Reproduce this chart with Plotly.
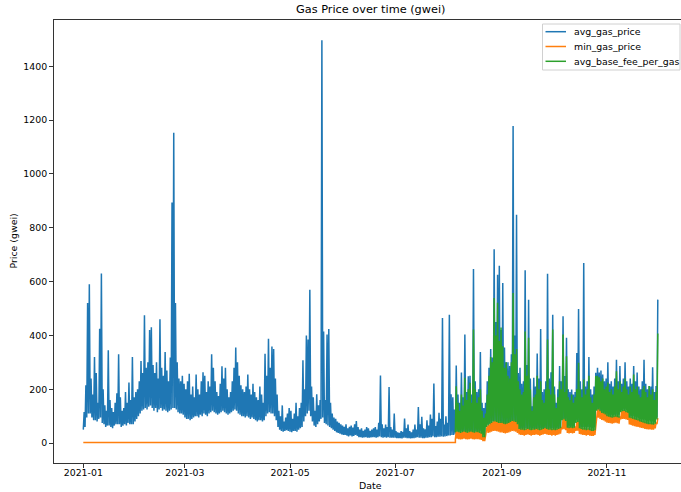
import pandas as pd
import plotly.graph_objects as go

# Hourly gas prices condensed to one trough and one peak per day (gwei).
# avg_gas_price, 2021-01-01 .. 2021-11-30
avg_gas_lo = [
    # Jan
    50, 60, 95, 110, 110, 95, 85, 85, 80, 90, 95, 75, 70, 60, 65, 65, 60, 55, 65, 70,
    70, 70, 60, 65, 70, 65, 75, 70, 70, 70, 80,
    # Feb
    90, 100, 110, 120, 125, 130, 125, 135, 140, 130, 120, 130, 115, 125, 130, 120, 125, 120,
    115, 120, 125, 130, 130, 125, 115, 110, 110, 105,
    # Mar
    95, 90, 90, 85, 90, 95, 100, 100, 95, 105, 100, 110, 105, 100, 110, 115, 120, 115, 110,
    105, 110, 115, 120, 115, 110, 105, 110, 115, 120, 125, 120,
    # Apr
    110, 105, 100, 100, 95, 100, 95, 90, 95, 90, 85, 80, 85, 85, 80, 85, 100, 110, 115, 110,
    110, 100, 85, 60, 50, 45, 42, 45, 48, 45,
    # May
    42, 40, 45, 45, 42, 50, 55, 60, 80, 100, 110, 120, 100, 80, 65, 60, 70, 80, 90, 95,
    75, 70, 65, 60, 55, 50, 45, 40, 38, 35, 32,
    # Jun
    30, 30, 28, 25, 28, 25, 27, 30, 27, 22, 22, 20, 21, 22, 20, 20, 21, 22, 22, 20,
    22, 25, 22, 20, 22, 20, 22, 20, 20, 20,
    # Jul
    20, 18, 18, 18, 17, 20, 20, 18, 18, 17, 18, 18, 20, 22, 20, 20, 18, 18, 20, 20,
    22, 22, 25, 22, 22, 24, 24, 25, 24, 25, 26,
    # Aug
    28, 28, 30, 30, 35, 45, 45, 45, 45, 45, 45, 45, 45, 45, 45, 45, 45, 45, 45, 45,
    30, 30, 60, 70, 75, 80, 80, 80, 80, 80, 80,
    # Sep
    75, 75, 75, 75, 75, 75, 80, 80, 80, 75, 55, 55, 55, 55, 55, 55, 55, 55, 55, 55,
    55, 55, 55, 55, 55, 55, 55, 55, 55, 55,
    # Oct
    55, 55, 55, 55, 55, 90, 90, 90, 62, 62, 62, 62, 62, 85, 85, 60, 60, 60, 60, 60,
    60, 60, 60, 60, 60, 125, 120, 120, 115, 115, 110,
    # Nov
    105, 105, 105, 105, 105, 105, 105, 105, 125, 125, 125, 125, 125, 100, 100, 100, 100,
    95, 95, 95, 95, 90, 90, 90, 85, 85, 85, 80, 80, 95,
]
avg_gas_hi = [
    # Jan
    115, 215, 520, 590, 240, 180, 320, 260, 150, 425, 630, 200, 140, 120, 345, 160, 130,
    115, 150, 185, 330, 170, 120, 130, 190, 150, 225, 160, 320, 170, 190,
    # Feb
    200, 230, 305, 260, 475, 280, 300, 420, 430, 290, 260, 300, 240, 460, 280, 250, 338,
    270, 230, 318, 894, 1153, 520, 300, 240, 230, 250, 220,
    # Mar
    200, 230, 258, 180, 210, 170, 255, 200, 180, 230, 263, 250, 190, 230, 210, 330, 280,
    230, 190, 175, 220, 285, 240, 280, 200, 170, 190, 230, 280, 355, 300,
    # Apr
    250, 215, 200, 190, 210, 255, 200, 180, 220, 190, 170, 160, 210, 180, 150, 332, 250,
    388, 280, 359, 350, 240, 180, 120, 100, 140, 80, 95, 110, 130,
    # May
    120, 90, 110, 150, 100, 130, 150, 308, 200, 400, 385, 570, 210, 170, 120, 181, 140,
    160, 1497, 415, 160, 403, 424, 150, 110, 95, 90, 80, 75, 70, 65,
    # Jun
    60, 70, 55, 60, 65, 58, 70, 82, 60, 50, 55, 45, 50, 60, 55, 45, 50, 55, 60, 50,
    75, 251, 70, 55, 69, 60, 208, 60, 50, 110,
    # Jul
    45, 40, 38, 45, 42, 91, 55, 69, 45, 40, 50, 69, 50, 134, 70, 98, 55, 51, 85, 65,
    106, 90, 221, 63, 80, 113, 90, 465, 69, 100, 75,
    # Aug
    477, 181, 170, 125, 288, 180, 150, 262, 170, 403, 190, 248, 250, 180, 647, 230, 190,
    200, 338, 150, 130, 150, 230, 280, 350, 318, 720, 450, 625, 659, 420,
    # Sep
    595, 355, 300, 300, 286, 330, 1178, 400, 848, 260, 280, 220, 230, 642, 290, 533, 240,
    137, 243, 210, 333, 240, 424, 190, 200, 230, 629, 240, 263, 477,
    # Oct
    210, 150, 200, 286, 230, 471, 249, 391, 200, 190, 199, 180, 190, 335, 498, 230, 200,
    669, 210, 230, 320, 200, 180, 210, 261, 280, 262, 270, 255, 230, 240,
    # Nov
    300, 220, 230, 210, 240, 310, 230, 286, 220, 240, 300, 230, 210, 240, 220, 286, 230,
    262, 210, 200, 230, 310, 220, 200, 212, 210, 282, 190, 212, 533,
]

# min_gas_price: flat before the London upgrade, daily trough/peak after it
min_gas_prefork_dates = ["2021-01-01", "2021-08-05"]
min_gas_prefork = [2, 2]
min_gas_lo = [
    # Aug 5 ..
    15, 16, 15, 14, 15, 16, 15, 14, 15, 16, 15, 14, 15, 15, 14, 12, 7, 7, 35, 38, 40, 42,
    45, 45, 44, 42, 40,
    # Sep
    40, 38, 36, 38, 40, 42, 45, 44, 42, 38, 32, 30, 30, 28, 30, 32, 30, 28, 30, 30, 32, 30,
    28, 30, 32, 34, 32, 30, 30, 28,
    # Oct
    30, 28, 30, 32, 35, 51, 52, 48, 38, 36, 38, 36, 38, 45, 46, 34, 32, 30, 30, 28, 30, 28,
    27, 27, 30, 92, 94, 90, 86, 84, 80,
    # Nov
    76, 75, 74, 72, 74, 76, 74, 72, 88, 90, 90, 88, 86, 69, 67, 65, 63, 61, 60, 58, 56, 55,
    53, 52, 51, 51, 50, 50, 55, 70,
]
min_gas_hi = [
    45, 46, 45, 43, 45, 47, 45, 43, 45, 47, 45, 43, 45, 45, 43, 40, 26, 26, 65, 70, 75, 80,
    85, 85, 83, 80, 80,
    80, 77, 75, 77, 80, 83, 87, 85, 83, 75, 57, 55, 55, 53, 55, 57, 55, 53, 55, 55, 57, 55,
    53, 55, 57, 60, 57, 55, 55, 53,
    55, 53, 55, 57, 60, 90, 93, 87, 62, 60, 62, 60, 62, 80, 83, 60, 57, 55, 55, 53, 55, 53,
    50, 50, 53, 125, 130, 123, 117, 115, 111,
    105, 103, 101, 99, 101, 103, 101, 99, 120, 123, 124, 120, 118, 99, 97, 95, 93, 91, 89,
    85, 83, 81, 79, 77, 75, 75, 74, 73, 77, 93,
]

# avg_base_fee_per_gas, from 2021-08-05
base_fee_lo = [
    40, 42, 40, 38, 40, 42, 40, 38, 40, 42, 40, 38, 40, 40, 38, 35, 22, 22, 60, 65, 70, 75,
    80, 80, 78, 75, 75,
    75, 72, 70, 72, 75, 78, 82, 80, 78, 70, 52, 50, 50, 48, 50, 52, 50, 48, 50, 50, 52, 50,
    48, 50, 52, 55, 52, 50, 50, 48,
    50, 48, 50, 52, 55, 85, 88, 82, 57, 55, 57, 55, 57, 75, 78, 55, 52, 50, 50, 48, 50, 48,
    45, 45, 48, 120, 125, 118, 112, 110, 106,
    100, 98, 96, 94, 96, 98, 96, 94, 115, 118, 119, 115, 113, 94, 92, 90, 88, 86, 84, 80,
    78, 76, 74, 72, 70, 70, 69, 68, 72, 88,
]
base_fee_hi = [
    211, 150, 120, 180, 140, 243, 160, 200, 224, 150, 422, 200, 150, 170, 200, 120, 94, 110,
    180, 250, 320, 300, 539, 400, 521, 380, 429,
    360, 280, 300, 250, 240, 300, 558, 330, 350, 230, 200, 180, 190, 415, 250, 391, 200, 120,
    170, 180, 250, 200, 230, 160, 150, 200, 385, 200, 180, 422,
    180, 130, 170, 230, 200, 403, 190, 323, 170, 160, 180, 150, 170, 200, 298, 200, 170, 236,
    180, 200, 250, 170, 150, 180, 249, 250, 245, 230, 240, 200, 210,
    225, 190, 200, 180, 210, 267, 200, 230, 190, 210, 240, 200, 180, 210, 190, 255, 200, 210,
    180, 170, 200, 212, 190, 170, 212, 180, 200, 160, 190, 407,
]

y_ticks = [0, 200, 400, 600, 800, 1000, 1200, 1400]
x_ticks = ["2021-01-01", "2021-03-01", "2021-05-01", "2021-07-01", "2021-09-01", "2021-11-01"]

series_names = ["avg_gas_price", "min_gas_price", "avg_base_fee_per_gas"]
series_colors = ["#1f77b4", "#ff7f0e", "#2ca02c"]

FONT = "DejaVu Sans"
TEXT_SIZE = 9.4
TITLE_SIZE = 11.3


def daily_series(start, lo, hi):
    """Trough at midnight, peak at noon for each day."""
    ys = []
    for a, b in zip(lo, hi):
        ys += [a, b]
    xs = pd.date_range(start, periods=len(ys), freq="12h")
    return xs, ys


blue_x, blue_y = daily_series("2021-01-01", avg_gas_lo, avg_gas_hi)
post_x, orange_post = daily_series("2021-08-05", min_gas_lo, min_gas_hi)
orange_x = list(pd.to_datetime(min_gas_prefork_dates)) + list(post_x)
orange_y = min_gas_prefork + orange_post
green_x, green_y = daily_series("2021-08-05", base_fee_lo, base_fee_hi)

fig = go.Figure()
for (xs, ys), name, color in zip(
        [(blue_x, blue_y), (orange_x, orange_y), (green_x, green_y)],
        series_names, series_colors):
    fig.add_trace(go.Scatter(x=xs, y=ys, mode="lines", name=name,
                             line=dict(color=color, width=1.5), showlegend=False))

# Compact legend box in the upper-right corner of the axes
px_x = lambda p: (p - 54) / 627
px_y = lambda p: (463 - p) / 443
shapes = [dict(type="rect", xref="paper", yref="paper",
               x0=px_x(542.5), x1=px_x(680), y0=px_y(70), y1=px_y(24),
               fillcolor="rgba(255,255,255,0.8)", line=dict(color="#d0d0d0", width=1),
               layer="above")]
annotations = []
for i, (name, color) in enumerate(zip(series_names, series_colors)):
    yy = px_y(31.7 + 14.8 * i)
    shapes.append(dict(type="line", xref="paper", yref="paper",
                       x0=px_x(545.5), x1=px_x(566), y0=yy, y1=yy,
                       line=dict(color=color, width=1.5), layer="above"))
    annotations.append(dict(text=name, xref="paper", yref="paper", x=px_x(572), y=yy,
                            xanchor="left", yanchor="middle", showarrow=False,
                            font=dict(size=TEXT_SIZE, color="black")))

annotations += [
    dict(text="Gas Price over time (gwei)", xref="paper", yref="paper",
         x=0.505, y=px_y(10), xanchor="center", yanchor="middle", showarrow=False,
         font=dict(size=TITLE_SIZE, color="black")),
    dict(text="Date", xref="paper", yref="paper", x=0.505, y=px_y(485.5),
         xanchor="center", yanchor="middle", showarrow=False,
         font=dict(size=TEXT_SIZE, color="black")),
    dict(text="Price (gwei)", xref="paper", yref="paper", x=px_x(13), y=0.5,
         xanchor="center", yanchor="middle", textangle=-90, showarrow=False,
         font=dict(size=TEXT_SIZE, color="black")),
]

fig.update_layout(
    width=681, height=492,
    margin=dict(l=54, r=0, t=20, b=29),
    paper_bgcolor="white", plot_bgcolor="white",
    font=dict(family=FONT, size=TEXT_SIZE, color="black"),
    showlegend=False,
    xaxis=dict(
        type="date",
        range=["2020-12-14 23:45", "2021-12-13 23:15"],
        tickvals=x_ticks, tickformat="%Y-%m",
        ticks="outside", ticklen=4, tickwidth=1, tickcolor="#333",
        ticklabelstandoff=-3,
        showline=True, linecolor="#333", linewidth=1, mirror=True,
        showgrid=False, zeroline=False,
    ),
    yaxis=dict(
        range=[-74, 1572],
        tickvals=y_ticks,
        ticks="outside", ticklen=4, tickwidth=1, tickcolor="#333",
        showline=True, linecolor="#333", linewidth=1,
        showgrid=False, zeroline=False,
    ),
    shapes=shapes,
    annotations=annotations,
)

fig.write_html("out.html")
